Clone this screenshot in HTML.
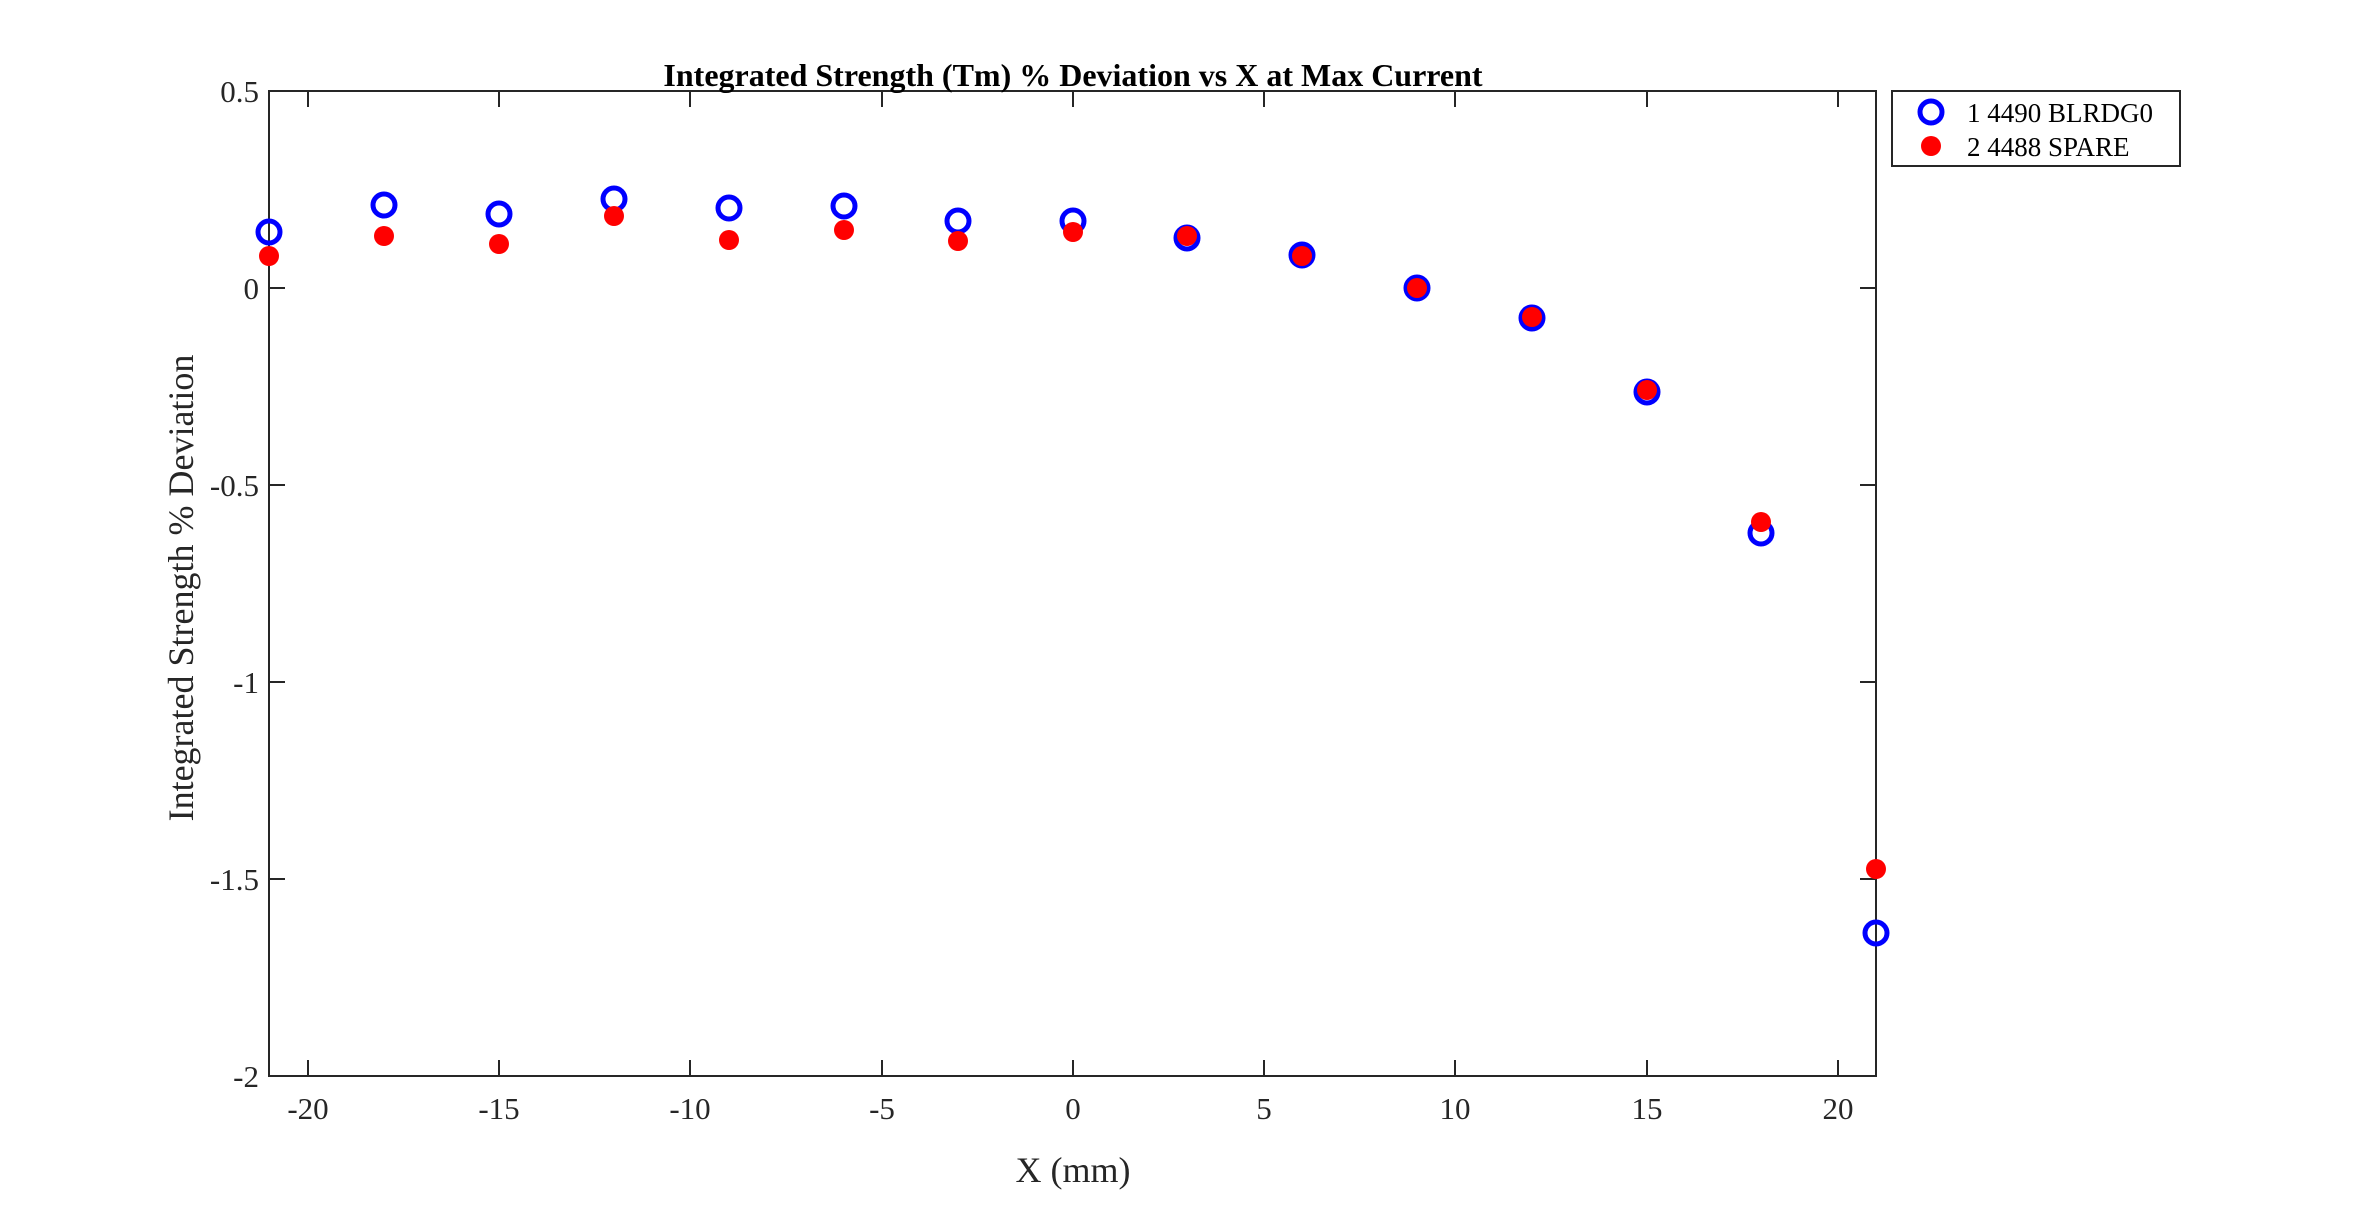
<!DOCTYPE html>
<html><head><meta charset="utf-8"><style>html,body{margin:0;padding:0;background:#fff}</style></head>
<body>
<svg width="2378" height="1210" viewBox="0 0 2378 1210" xmlns="http://www.w3.org/2000/svg" font-family="Liberation Serif, serif">
<rect width="2378" height="1210" fill="#fff"/>
<g stroke="#262626" stroke-width="2" fill="none">
<rect x="269" y="91" width="1607" height="985"/>
<path d="M308,1076v-16M308,91v16 M499,1076v-16M499,91v16 M690,1076v-16M690,91v16 M882,1076v-16M882,91v16 M1073,1076v-16M1073,91v16 M1264,1076v-16M1264,91v16 M1455,1076v-16M1455,91v16 M1647,1076v-16M1647,91v16 M1838,1076v-16M1838,91v16"/>
<path d="M269,91h16M1876,91h-16 M269,288h16M1876,288h-16 M269,485h16M1876,485h-16 M269,682h16M1876,682h-16 M269,879h16M1876,879h-16 M269,1076h16M1876,1076h-16"/>
</g>
<g font-size="31" fill="#262626" text-anchor="middle">
<text x="308" y="1119">-20</text><text x="499" y="1119">-15</text><text x="690" y="1119">-10</text><text x="882" y="1119">-5</text><text x="1073" y="1119">0</text><text x="1264" y="1119">5</text><text x="1455" y="1119">10</text><text x="1647" y="1119">15</text><text x="1838" y="1119">20</text>
</g>
<g font-size="31" fill="#262626" text-anchor="end">
<text x="259" y="102">0.5</text><text x="259" y="299">0</text><text x="259" y="496">-0.5</text><text x="259" y="693">-1</text><text x="259" y="890">-1.5</text><text x="259" y="1087">-2</text>
</g>
<text x="1073" y="1182" font-size="36" text-anchor="middle" fill="#262626">X (mm)</text>
<text transform="translate(193,588) rotate(-90)" font-size="36" text-anchor="middle" fill="#262626">Integrated Strength % Deviation</text>
<text x="1073" y="86" font-size="32" font-weight="bold" text-anchor="middle" fill="#000">Integrated Strength (Tm) % Deviation vs X at Max Current</text>
<g fill="none" stroke="#0000ff" stroke-width="5">
<circle cx="269" cy="232" r="11"/><circle cx="384" cy="205" r="11"/><circle cx="499" cy="214" r="11"/><circle cx="614" cy="199" r="11"/><circle cx="729" cy="208" r="11"/><circle cx="844" cy="206" r="11"/><circle cx="958" cy="221" r="11"/><circle cx="1073" cy="221" r="11"/><circle cx="1187" cy="238" r="11"/><circle cx="1302" cy="255" r="11"/><circle cx="1417" cy="288" r="11"/><circle cx="1532" cy="318" r="11"/><circle cx="1647" cy="392" r="11"/><circle cx="1761" cy="533" r="11"/><circle cx="1876" cy="933" r="11"/>
</g>
<g fill="#ff0000">
<circle cx="269" cy="256" r="10"/><circle cx="384" cy="236" r="10"/><circle cx="499" cy="244" r="10"/><circle cx="614" cy="216" r="10"/><circle cx="729" cy="240" r="10"/><circle cx="844" cy="230" r="10"/><circle cx="958" cy="241" r="10"/><circle cx="1073" cy="232" r="10"/><circle cx="1187" cy="236" r="10"/><circle cx="1302" cy="256" r="10"/><circle cx="1417" cy="288" r="10"/><circle cx="1532" cy="317" r="10"/><circle cx="1647" cy="390" r="10"/><circle cx="1761" cy="522" r="10"/><circle cx="1876" cy="869" r="10"/>
</g>
<rect x="1892" y="91" width="288" height="75" fill="#fff" stroke="#262626" stroke-width="2"/>
<circle cx="1931" cy="112" r="11" fill="none" stroke="#0000ff" stroke-width="5"/>
<circle cx="1931" cy="146" r="10" fill="#ff0000"/>
<g font-size="27" fill="#000">
<text x="1967" y="122">1 4490 BLRDG0</text>
<text x="1967" y="156">2 4488 SPARE</text>
</g>
</svg>
</body></html>
